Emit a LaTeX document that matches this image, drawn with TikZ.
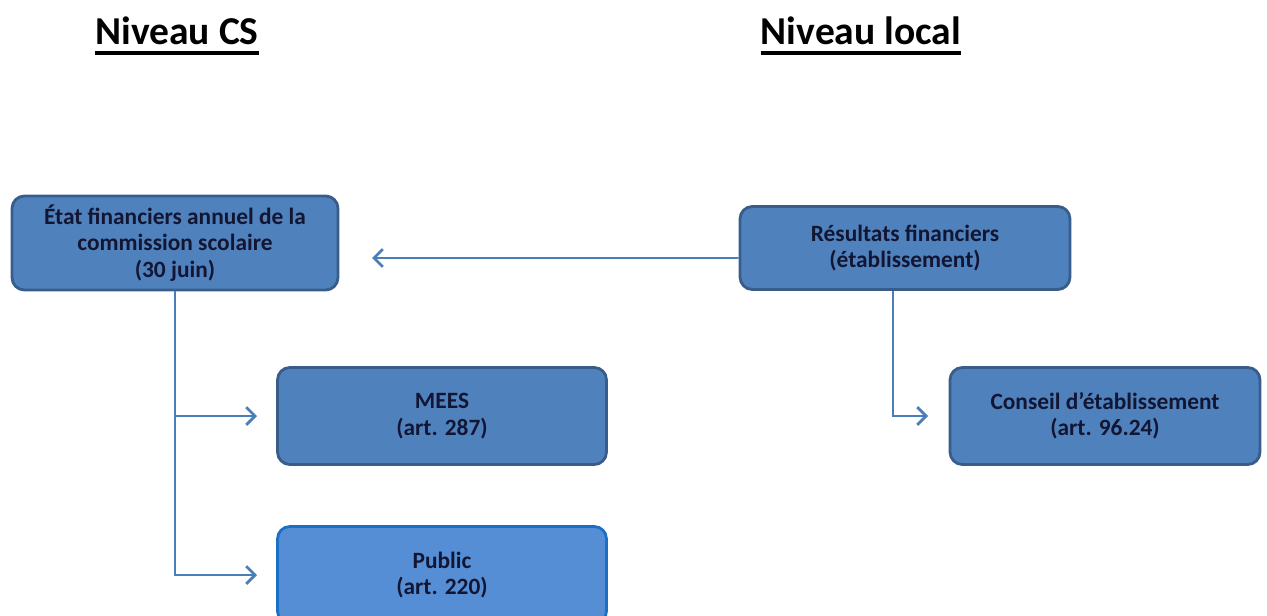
\documentclass[tikz,border=0pt]{standalone}
\usepackage{fontspec}
\setmainfont{Carlito}
\usetikzlibrary{arrows.meta, positioning}
\definecolor{boxfill}{RGB}{79,129,189}
\definecolor{boxdraw}{RGB}{56,93,138}
\definecolor{pubfill}{RGB}{85,142,213}
\definecolor{pubdraw}{RGB}{28,112,196}
\definecolor{boxtext}{RGB}{18,22,50}
\definecolor{linkblue}{RGB}{74,126,187}
\tikzset{
  % Level heading
  heading/.style={
    font=\bfseries\fontsize{22.5}{26}\selectfont, text=black, inner sep=0pt
  },
  % Heading underline
  headrule/.style={line width=1.8pt, color=black},
  % Info box
  infobox/.style={
    rectangle, rounded corners=7pt,
    fill=boxfill, draw=boxdraw, line width=1.6pt,
    text=boxtext, font=\bfseries\fontsize{13.3}{15}\selectfont, align=center
  },
  % Public box (lighter)
  pubbox/.style={infobox, fill=pubfill, draw=pubdraw},
  % Arrow style
  arr/.style={
    -{Straight Barb[length=5pt,width=10pt,line width=1.6pt]}, color=linkblue, line width=1.1pt
  },
}

\begin{document}
\begin{tikzpicture}[x=0.02cm, y=-0.02cm]
  \useasboundingbox (0,0) rectangle (1267,615);

  % headings
  \node[heading, anchor=base] (hcs) at (177,45) {Niveau CS};
  \node[heading, anchor=base] (hloc) at (861,45) {Niveau local};
  \draw[headrule] ([yshift=-0.16cm]hcs.base west) -- ([yshift=-0.16cm]hcs.base east);
  \draw[headrule] ([yshift=-0.16cm]hloc.base west) -- ([yshift=-0.16cm]hloc.base east);

  % boxes
  \node[infobox, minimum width=6.52cm, minimum height=1.88cm] (etat) at (175,243)
    {État financiers annuel de la\\commission scolaire\\(30 juin)};
  \node[infobox, minimum width=6.6cm, minimum height=1.66cm] (res) at (905,248)
    {Résultats financiers\\(établissement)};
  \node[infobox, minimum width=6.58cm, minimum height=1.94cm] (mees) at (442,416)
    {MEES\\(art. 287)};
  \node[pubbox, minimum width=6.58cm, minimum height=1.94cm] (pub) at (442,575)
    {Public\\(art. 220)};
  \node[infobox, minimum width=6.2cm, minimum height=1.94cm] (cons) at (1105,416)
    {Conseil d’établissement\\(art. 96.24)};

  % arrow ends
  \coordinate (etat in) at (372,258);
  \coordinate (mees in) at (257,416);
  \coordinate (pub in) at (257,575);
  \coordinate (cons in) at (928,416);

  % connectors
  \draw[arr] ([yshift=-0.2cm]res.west) -- (etat in);
  \draw[arr] (etat.south) |- (mees in);
  \draw[arr] (etat.south) |- (pub in);
  \draw[arr] ([xshift=-0.24cm]res.south) |- (cons in);
\end{tikzpicture}
\end{document}
